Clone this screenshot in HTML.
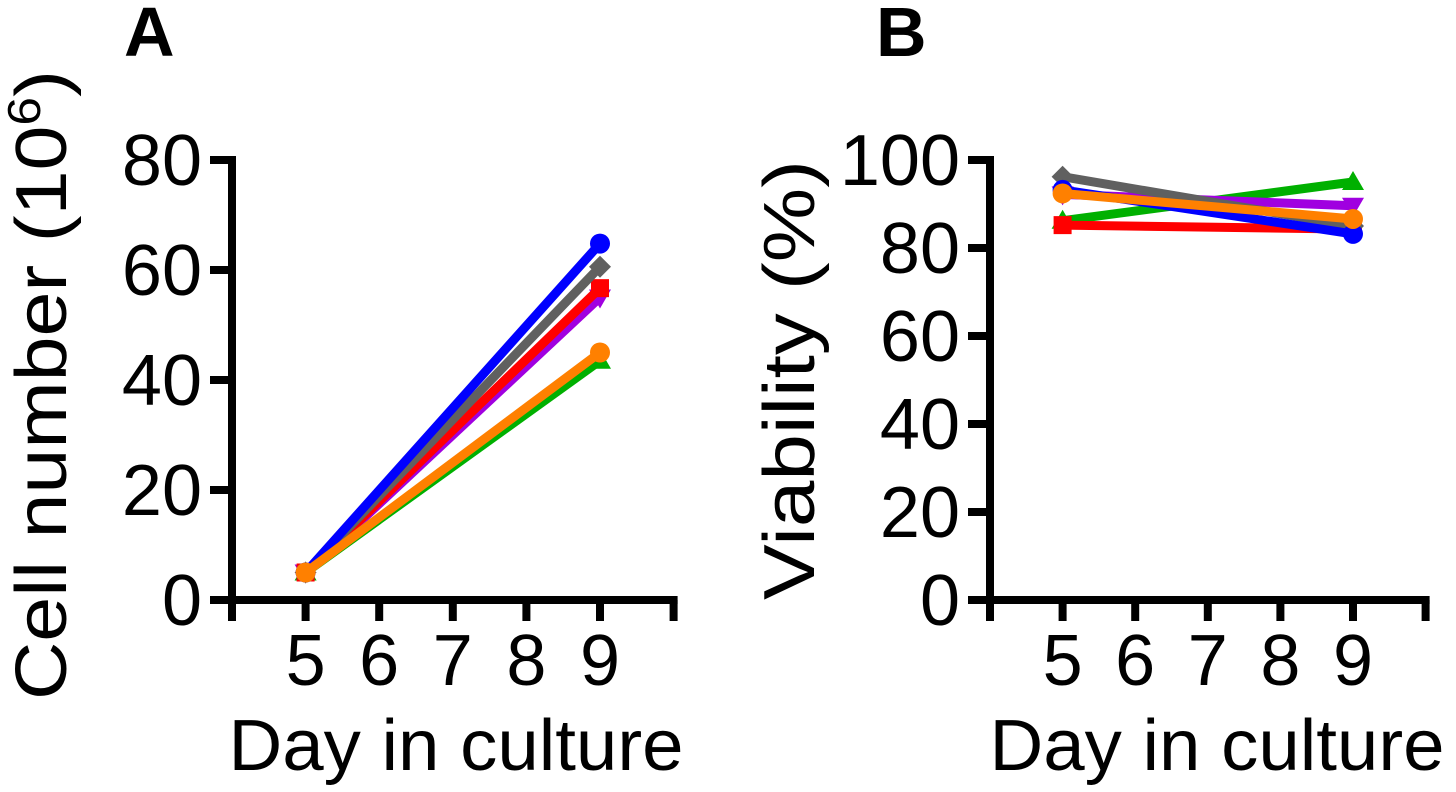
<!DOCTYPE html>
<html><head><meta charset="utf-8"><style>
html,body{margin:0;padding:0;background:#fff}
svg{display:block}
text{font-family:"Liberation Sans",sans-serif;fill:#000}
</style></head><body>
<svg id="chart" width="1456" height="792" viewBox="0 0 1456 792" xmlns="http://www.w3.org/2000/svg"></svg>
<script>
const days = [5, 9];
const seriesNames = ["green","purple","red","gray","blue","orange"];
const seriesColors = ["#00b000","#a000e0","#ff0000","#606060","#0000ff","#ff8000"];
const seriesMarkers = ["tri-up","tri-down","square","diamond","circle","circle"];
const cellA_blue = [5, 64.8];
const cellA_gray = [5, 60.6];
const cellA_red = [5, 56.7];
const cellA_purple = [5, 55];
const cellA_orange = [5, 45];
const cellA_green = [5, 43.5];
const viaB_blue = [93.2, 83.2];
const viaB_gray = [96.2, 85];
const viaB_red = [85.2, 84.3];
const viaB_purple = [92.2, 89.6];
const viaB_orange = [92.4, 86.6];
const viaB_green = [86.2, 95];
const yTicksA = [0, 20, 40, 60, 80];
const yTicksB = [0, 20, 40, 60, 80, 100];
const xTickLabels = [5, 6, 7, 8, 9];

const NS = "http://www.w3.org/2000/svg";
const svg = document.getElementById("chart");
function mk(tag, attrs, parent){
  const e = document.createElementNS(NS, tag);
  for (const k in attrs) e.setAttribute(k, attrs[k]);
  (parent||svg).appendChild(e);
  return e;
}
function marker(g, type, x, y, c){
  let e;
  if (type==="circle") e = mk("circle",{cx:x,cy:y,r:10,fill:c},g);
  else if (type==="square") e = mk("rect",{x:x-9,y:y-9,width:18,height:18,fill:c},g);
  else if (type==="diamond") e = mk("polygon",{points:`${x},${y-11} ${x+11},${y} ${x},${y+11} ${x-11},${y}`,fill:c},g);
  else if (type==="tri-up") e = mk("polygon",{points:`${x},${y-11} ${x+11},${y+8} ${x-11},${y+8}`,fill:c},g);
  else e = mk("polygon",{points:`${x-11},${y-8} ${x+11},${y-8} ${x},${y+11}`,fill:c},g);
  
  
}
function panel(cfg){
  const g = mk("g",{});
  
  
  const xs = v => cfg.x0 + (v-4)*cfg.dx;
  const ys = v => 600 - v*cfg.ky;
  const ax = mk("path",{d:`M${cfg.x0},${ys(cfg.ymax)-4} V600 H${xs(10)+4}`,stroke:"#000","stroke-width":8,fill:"none"},g);
  
  
  cfg.yTicks.forEach(t=>{
    const l = mk("line",{x1:cfg.x0-22,x2:cfg.x0,y1:ys(t),y2:ys(t),stroke:"#000","stroke-width":8},g);
    
    
    const tx = mk("text",{x:cfg.x0-30,y:ys(t)+25,"text-anchor":"end","font-size":72},g);
    
    
    tx.textContent = t;
  });
  for (let d=4; d<=10; d++){
    const l = mk("line",{x1:xs(d),x2:xs(d),y1:600,y2:621,stroke:"#000","stroke-width":8},g);
    
    
  }
  xTickLabels.forEach(d=>{
    const tx = mk("text",{x:xs(d),y:685,"text-anchor":"middle","font-size":72},g);
    
    
    tx.textContent = d;
  });
  const xt = mk("text",{x:cfg.xTitleX,y:770,"text-anchor":"middle","font-size":72,textLength:cfg.xTitleLen,lengthAdjust:"spacingAndGlyphs"},g);
  
  
  xt.textContent = "Day in culture";
  const yt = mk("text",{x:0,y:0,"text-anchor":"middle","font-size":72,textLength:cfg.yTitleLen,lengthAdjust:"spacingAndGlyphs",transform:`translate(${cfg.yTitleX},${cfg.yTitleY}) rotate(-90)`},g);
  
  
  yt.textContent = cfg.yTitle;
  if (cfg.sup){ const s = mk("tspan",{"font-size":46,dy:-26},yt); s.textContent="6"; const s2=mk("tspan",{dy:26},yt); s2.textContent=")"; }
  const lt = mk("text",{x:cfg.letterX,y:56,"font-size":70,"font-weight":"bold"},g);
  
  
  lt.textContent = cfg.letter;
  cfg.series.forEach((vals,i)=>{
    const c = seriesColors[i];
    const line = mk("line",{x1:xs(days[0]),y1:ys(vals[0]),x2:xs(days[1]),y2:ys(vals[1]),stroke:c,"stroke-width":9},g);
    
    
    days.forEach((d,j)=>marker(g, seriesMarkers[i], xs(d), ys(vals[j]), c));
  });
}
panel({name:"panel-a",x0:232,dx:73.6,ky:5.5,ymax:80,yTicks:yTicksA,xTitleX:456,xTitleLen:455,yTitleX:66,yTitleY:385,yTitleLen:630,
  yTitle:"Cell number (10",sup:true,letter:"A",letterX:124,
  series:[cellA_green,cellA_purple,cellA_red,cellA_gray,cellA_blue,cellA_orange]});
panel({name:"panel-b",x0:990,dx:72.6,ky:4.4,ymax:100,yTicks:yTicksB,xTitleX:1217,xTitleLen:455,yTitleX:814,yTitleY:380,yTitleLen:440,
  yTitle:"Viability (%)",sup:false,letter:"B",letterX:876,
  series:[viaB_green,viaB_purple,viaB_red,viaB_gray,viaB_blue,viaB_orange]});
</script>
</body></html>
